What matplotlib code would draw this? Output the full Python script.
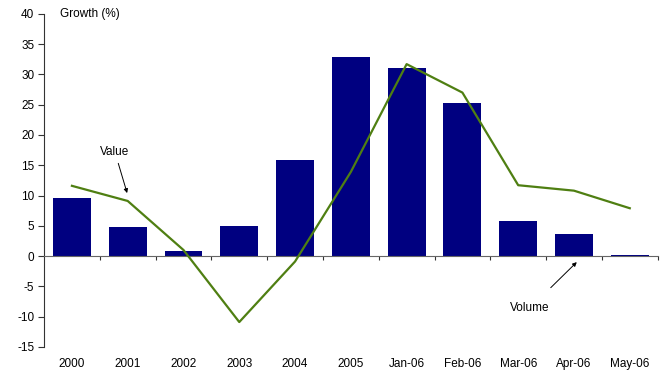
import matplotlib.pyplot as plt
import numpy as np

plt.rcParams['font.family'] = ['Liberation Sans', 'DejaVu Sans']
plt.rcParams['axes.unicode_minus'] = False

# data
categories = ['2000', '2001', '2002', '2003', '2004', '2005',
              'Jan-06', 'Feb-06', 'Mar-06', 'Apr-06', 'May-06']
volume = [9.6, 4.8, 0.8, 5.0, 15.9, 32.9, 31.1, 25.3, 5.8, 3.6, 0.2]
value = [11.6, 9.1, 1.0, -10.9, -0.9, 13.9, 31.7, 27.0, 11.7, 10.8, 7.9]

fig = plt.figure(figsize=(6.67, 3.75), dpi=100)
ax = fig.add_axes([0.066, 0.075, 0.92, 0.888])

x = np.arange(len(categories))
ax.bar(x, volume, width=0.68, color='#000080', zorder=2)
ax.plot(x, value, color='#4f7f12', lw=1.6, zorder=3)

ax.set_xlim(-0.5, len(categories) - 0.5)
ax.set_ylim(-15, 40)
ax.set_yticks(range(-15, 41, 5))
ax.tick_params(axis='y', direction='out', length=4, width=0.8,
               labelsize=8.5, colors='#333333', pad=3)
for lab in ax.get_yticklabels():
    lab.set_color('black')

# x axis line through zero, ticks on category boundaries
ax.spines['top'].set_visible(False)
ax.spines['right'].set_visible(False)
ax.spines['bottom'].set_position(('data', 0))
ax.spines['bottom'].set_color('#666666')
ax.spines['left'].set_color('#333333')
ax.set_xticks(np.arange(0.5, len(categories), 1.0))
ax.set_xticklabels([])
ax.tick_params(axis='x', direction='out', length=3, width=0.8, colors='#333333')

# category labels at the bottom
sec = ax.secondary_xaxis('bottom')
sec.set_xticks(x)
sec.set_xticklabels(categories, fontsize=8.5)
sec.tick_params(length=0, pad=8)
sec.spines['bottom'].set_visible(False)

ax.text(-0.22, 40, 'Growth (%)', fontsize=8.5, va='center', ha='left')

arrow = dict(arrowstyle='-|>', color='black', lw=0.7, mutation_scale=6,
             shrinkA=2, shrinkB=0)
ax.annotate('Value', xy=(0.99, 10.4), xytext=(0.77, 17.2), fontsize=8.5,
            ha='center', va='center', arrowprops=arrow)
ax.annotate('Volume', xy=(9.05, -1.0), xytext=(8.21, -8.6), fontsize=8.5,
            ha='center', va='center', arrowprops=dict(arrow, shrinkA=12))

fig.savefig('out.png', dpi=100)
